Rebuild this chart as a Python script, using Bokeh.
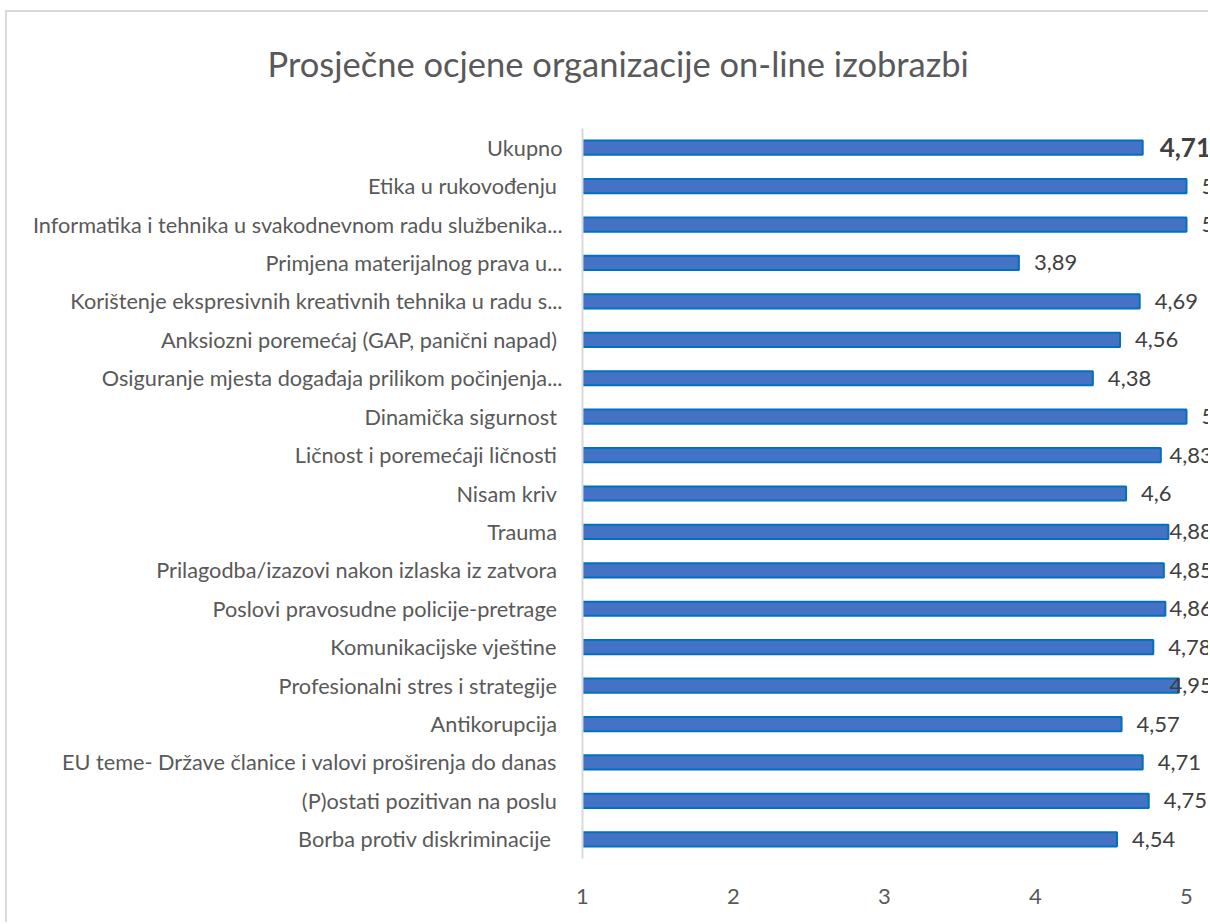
from bokeh.plotting import figure
from bokeh.models import ColumnDataSource, Title, Range1d, FixedTicker
from bokeh.embed import file_html
from bokeh.resources import INLINE
from bokeh.core.properties import value

title_text = "Prosječne ocjene organizacije on-line izobrazbi"
categories = [
    "Ukupno",
    "Etika u rukovođenju ",
    "Informatika i tehnika u svakodnevnom radu službenika...",
    "Primjena materijalnog prava u...",
    "Korištenje ekspresivnih kreativnih tehnika u radu s...",
    "Anksiozni poremećaj (GAP, panični napad) ",
    "Osiguranje mjesta događaja prilikom počinjenja...",
    "Dinamička sigurnost ",
    "Ličnost i poremećaji ličnosti ",
    "Nisam kriv ",
    "Trauma ",
    "Prilagodba/izazovi nakon izlaska iz zatvora ",
    "Poslovi pravosudne policije-pretrage ",
    "Komunikacijske vještine ",
    "Profesionalni stres i strategije ",
    "Antikorupcija ",
    "EU teme- Države članice i valovi proširenja do danas ",
    "(P)ostati pozitivan na poslu ",
    "Borba protiv diskriminacije  ",
]
scores = [4.71, 5, 5, 3.89, 4.69, 4.56, 4.38, 5, 4.83, 4.6, 4.88, 4.85, 4.86,
          4.78, 4.95, 4.57, 4.71, 4.75, 4.54]
x_ticks = [1, 2, 3, 4, 5]
axis_start = 1

FONT = "Lato"
X_END = 5.159                    # right edge of the visible plot area
PX_PER_UNIT = (1210 - 582) / (X_END - axis_start)
labels = [("%g" % v).replace(".", ",") for v in scores]

# Excel-style "outside end" labels: a gap after the bar end, pushed back
# inside when the label box would run past the chart's plot-area edge
GAP = 15 / PX_PER_UNIT
LABEL_EDGE = 5.218


def label_width(s):
    return (14 * sum(c.isdigit() for c in s) + 8 * s.count(",")) / PX_PER_UNIT


label_x = [min(v + GAP, LABEL_EDGE - label_width(s)) for v, s in zip(scores, labels)]

src = ColumnDataSource(dict(cat=categories, val=scores, lbl=labels,
                            start=[axis_start] * len(scores)))
first = ColumnDataSource(dict(cat=categories[:1], val=scores[:1], lbl=labels[:1]))
rest = ColumnDataSource(dict(cat=categories[1:], lx=label_x[1:], lbl=labels[1:]))

p = figure(width=1203, height=912, y_range=list(reversed(categories)),
           x_range=Range1d(axis_start, X_END), output_backend="svg", toolbar_location=None,
           min_border_left=575, min_border_right=0, min_border_top=116, min_border_bottom=66,
           margin=(10, 0, 0, 5),
           styles={"border-top": "2px solid #d9d9d9", "border-left": "2px solid #d9d9d9"})
p.outline_line_color = None
p.xgrid.visible = False
p.ygrid.visible = False

p.hbar(y="cat", left="start", right="val", height=0.37, source=src,
       fill_color="#4472C4", line_color="#0070C0", line_width=2)

p.text(x="lx", y="cat", text="lbl", source=rest,
       text_align="left", text_baseline="middle", text_color="#404040",
       text_font=value(FONT), text_font_size="22px")
p.text(x="val", y="cat", text="lbl", source=first, x_offset=17,
       text_align="left", text_baseline="middle", text_color="#404040",
       text_font=value(FONT), text_font_size="26px", text_font_style="bold")

p.yaxis.axis_line_color = "#d9d9d9"
p.yaxis.axis_line_width = 2
p.yaxis.major_tick_line_color = None
p.yaxis.minor_tick_line_color = None
p.yaxis.major_label_standoff = 14
p.yaxis.major_label_text_font = FONT
p.yaxis.major_label_text_font_size = "21.7px"
p.yaxis.major_label_text_color = "#595959"

p.xaxis.ticker = FixedTicker(ticks=x_ticks)
p.xaxis.axis_line_color = None
p.xaxis.major_tick_line_color = None
p.xaxis.minor_tick_line_color = None
p.xaxis.major_label_standoff = 24
p.xaxis.major_label_text_font = FONT
p.xaxis.major_label_text_font_size = "22px"
p.xaxis.major_label_text_color = "#595959"

title = Title(text=title_text, align="left", offset=-315,
              text_font=FONT, text_font_size="34.5px", text_font_style="normal",
              text_color="#595959")
try:
    title.padding = dict(left=0, right=0, top=0, bottom=40)
    title.standoff = 10
except Exception:
    title.standoff = 65
p.add_layout(title, "above")

open("out.html", "w").write(file_html(p, INLINE))
